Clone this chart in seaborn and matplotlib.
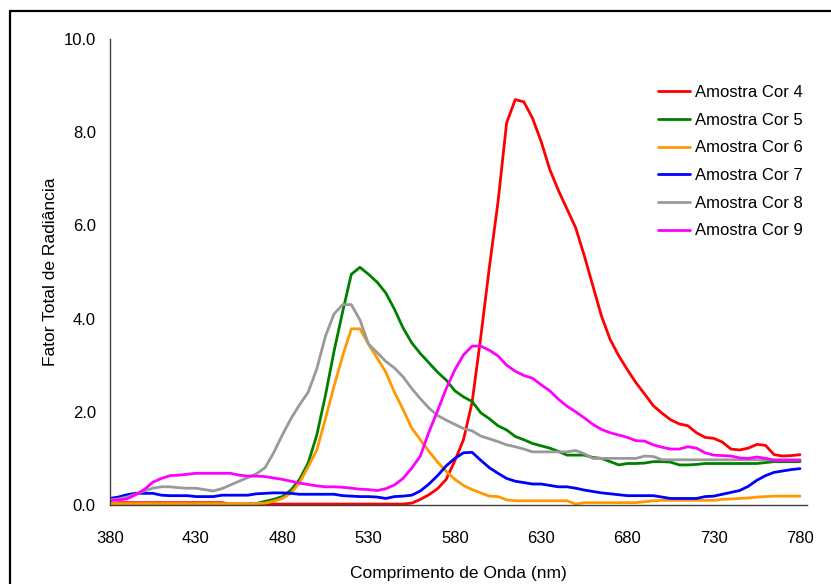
import numpy as np
import pandas as pd
import seaborn as sns
import matplotlib
matplotlib.use("Agg")
import matplotlib.pyplot as plt
from matplotlib.lines import Line2D
from matplotlib.ticker import MultipleLocator, FormatStrFormatter

wavelength = list(range(380, 785, 5))

cor4 = [0.02, 0.05, 0.05, 0.05, 0.05, 0.05, 0.05, 0.05, 0.05, 0.05,
        0.05, 0.05, 0.05, 0.05, 0.02, 0.02, 0.02, 0.02, 0.02, 0.02,
        0.02, 0.02, 0.02, 0.02, 0.02, 0.02, 0.02, 0.02, 0.02, 0.02,
        0.02, 0.02, 0.02, 0.02, 0.02, 0.04, 0.12, 0.22, 0.35, 0.55,
        0.95, 1.4, 2.2, 3.6, 5.1, 6.5, 8.2, 8.7, 8.65, 8.3,
        7.8, 7.2, 6.75, 6.35, 5.95, 5.35, 4.7, 4.05, 3.55, 3.2,
        2.9, 2.62, 2.38, 2.13, 1.97, 1.83, 1.74, 1.7, 1.55, 1.45,
        1.43, 1.35, 1.2, 1.18, 1.22, 1.3, 1.28, 1.08, 1.05, 1.06,
        1.08]
cor5 = [0.02] * 17 + [0.03, 0.08, 0.12, 0.18, 0.32, 0.55, 0.9, 1.5, 2.35,
        3.3, 4.15, 4.95, 5.1, 4.95, 4.78, 4.55, 4.2, 3.8, 3.48,
        3.25, 3.05, 2.85, 2.68, 2.45, 2.32, 2.22, 1.98, 1.85, 1.7,
        1.61, 1.47, 1.4, 1.32, 1.27, 1.22, 1.15, 1.07, 1.07, 1.07,
        1.02, 1.0, 0.93, 0.86, 0.89, 0.89, 0.9, 0.93, 0.93, 0.92,
        0.86, 0.86, 0.87, 0.89, 0.89, 0.89, 0.89, 0.89, 0.89, 0.89,
        0.91, 0.93, 0.93, 0.93, 0.93, 0.93]
cor6 = [0.03] * 18 + [0.04, 0.08, 0.14, 0.25, 0.48, 0.82, 1.18, 1.85, 2.55,
        3.2, 3.78, 3.78, 3.45, 3.15, 2.85, 2.42, 2.05, 1.65, 1.4,
        1.15, 0.92, 0.72, 0.55, 0.42, 0.33, 0.26, 0.19, 0.18, 0.11,
        0.09, 0.09, 0.09, 0.09, 0.09, 0.09, 0.09, 0.02, 0.05, 0.05,
        0.05, 0.05, 0.05, 0.05, 0.05, 0.07, 0.09, 0.1, 0.1, 0.1,
        0.1, 0.1, 0.1, 0.1, 0.12, 0.13, 0.14, 0.15, 0.17, 0.18,
        0.19, 0.19, 0.19, 0.19]
cor7 = [0.14, 0.17, 0.22, 0.25, 0.25, 0.25, 0.21, 0.2, 0.2, 0.2,
        0.18, 0.18, 0.18, 0.21, 0.21, 0.21, 0.21, 0.24, 0.25, 0.26,
        0.26, 0.25, 0.23, 0.23, 0.23, 0.23, 0.23, 0.2, 0.19, 0.18,
        0.18, 0.17, 0.14, 0.18, 0.19, 0.21, 0.3, 0.45, 0.63, 0.84,
        1.0, 1.12, 1.13, 0.96, 0.8, 0.68, 0.57, 0.51, 0.48, 0.45,
        0.45, 0.42, 0.39, 0.39, 0.36, 0.32, 0.29, 0.26, 0.24, 0.22,
        0.2, 0.2, 0.2, 0.2, 0.17, 0.14, 0.14, 0.14, 0.14, 0.18,
        0.19, 0.23, 0.27, 0.31, 0.4, 0.53, 0.63, 0.7, 0.73, 0.76,
        0.78]
cor8 = [0.11, 0.13, 0.17, 0.23, 0.3, 0.36, 0.39, 0.39, 0.37, 0.36,
        0.36, 0.33, 0.3, 0.35, 0.43, 0.51, 0.59, 0.67, 0.8, 1.12,
        1.5, 1.85, 2.15, 2.42, 2.92, 3.62, 4.1, 4.3, 4.3, 3.97,
        3.45, 3.27, 3.08, 2.94, 2.75, 2.5, 2.28, 2.08, 1.92, 1.82,
        1.73, 1.64, 1.59, 1.48, 1.42, 1.36, 1.29, 1.25, 1.2, 1.14,
        1.14, 1.14, 1.14, 1.14, 1.17, 1.1, 1.0, 1.0, 1.0, 1.0,
        1.0, 1.0, 1.05, 1.04, 0.97, 0.97, 0.97, 0.97, 0.97, 0.97,
        0.97, 0.97, 0.97, 0.97, 0.97, 0.97, 0.97, 0.97, 0.97, 0.97,
        0.97]
cor9 = [0.09, 0.11, 0.13, 0.22, 0.33, 0.49, 0.57, 0.63, 0.64, 0.66,
        0.68, 0.68, 0.68, 0.68, 0.68, 0.64, 0.62, 0.62, 0.61, 0.58,
        0.55, 0.51, 0.47, 0.44, 0.41, 0.39, 0.39, 0.38, 0.36, 0.34,
        0.33, 0.31, 0.35, 0.43, 0.57, 0.79, 1.05, 1.57, 2.02, 2.5,
        2.9, 3.22, 3.41, 3.41, 3.32, 3.2, 3.0, 2.87, 2.78, 2.72,
        2.58, 2.45, 2.27, 2.12, 2.0, 1.87, 1.73, 1.62, 1.55, 1.5,
        1.45, 1.38, 1.37, 1.29, 1.24, 1.2, 1.2, 1.25, 1.22, 1.12,
        1.07, 1.06, 1.05, 1.01, 1.0, 1.03, 1.0, 0.96, 0.96, 0.96,
        0.96]

series_names = ["Amostra Cor 4", "Amostra Cor 5", "Amostra Cor 6",
                "Amostra Cor 7", "Amostra Cor 8", "Amostra Cor 9"]
series_values = [cor4, cor5, cor6, cor7, cor8, cor9]
colors = ["#FF0000", "#008000", "#FF9900", "#0000FF", "#999999", "#FF00FF"]

x_ticklabels = [380, 430, 480, 530, 580, 630, 680, 730, 780]
y_ticklabels = [0, 2, 4, 6, 8, 10]

rows = []
for name, vals in zip(series_names, series_values):
    for w, v in zip(wavelength, vals):
        rows.append({"Comprimento": w, "Valor": v, "Serie": name})
df = pd.DataFrame(rows)

sns.set_style("white")
plt.rcParams["font.family"] = ["Liberation Sans", "DejaVu Sans"]
plt.rcParams["text.color"] = "black"
plt.rcParams["axes.labelcolor"] = "black"

fig = plt.figure(figsize=(8.31, 5.84), dpi=100)
ax = fig.add_axes([0.132, 0.1353, 0.839, 0.798])

sns.lineplot(data=df, x="Comprimento", y="Valor", hue="Serie",
             hue_order=series_names, palette=colors, linewidth=2.0,
             ax=ax, legend=True)

ax.set_xlim(380, 784)
ax.set_ylim(0, 10)
ax.set_xticks(x_ticklabels)
ax.xaxis.set_minor_locator(MultipleLocator(25))
ax.set_yticks(y_ticklabels)
ax.yaxis.set_major_formatter(FormatStrFormatter("%.1f"))
ax.tick_params(axis="both", which="both", direction="out", colors="#404040",
               labelcolor="black", labelsize=12, width=1)
ax.tick_params(axis="x", which="both", length=5, pad=14)
ax.tick_params(axis="y", which="both", length=4, pad=6)
for s in ["top", "right"]:
    ax.spines[s].set_visible(False)
for s in ["left", "bottom"]:
    ax.spines[s].set_color("#404040")
    ax.spines[s].set_linewidth(1)

ax.set_xlabel("Comprimento de Onda (nm)", fontsize=12.5, labelpad=14,
              color="black")
ax.set_ylabel("Fator Total de Radiância", fontsize=12.5, labelpad=4,
              color="black")

handles, labels = ax.get_legend_handles_labels()
ax.legend(handles=handles, labels=labels, loc="upper left",
          bbox_to_anchor=(658 / 831, 1 - 85 / 584),
          bbox_transform=fig.transFigure, frameon=False, fontsize=12,
          handlelength=1.9, handletextpad=0.3, labelspacing=0.76,
          borderpad=0, borderaxespad=0)

# figure border (left and top edges visible)
fig.add_artist(Line2D([9.5 / 831, 9.5 / 831], [0, 1 - 10.5 / 584],
                      transform=fig.transFigure, color="black", linewidth=1.6))
fig.add_artist(Line2D([9.5 / 831, 1], [1 - 10.5 / 584, 1 - 10.5 / 584],
                      transform=fig.transFigure, color="black", linewidth=1.6))

fig.savefig("out.png", dpi=100)
